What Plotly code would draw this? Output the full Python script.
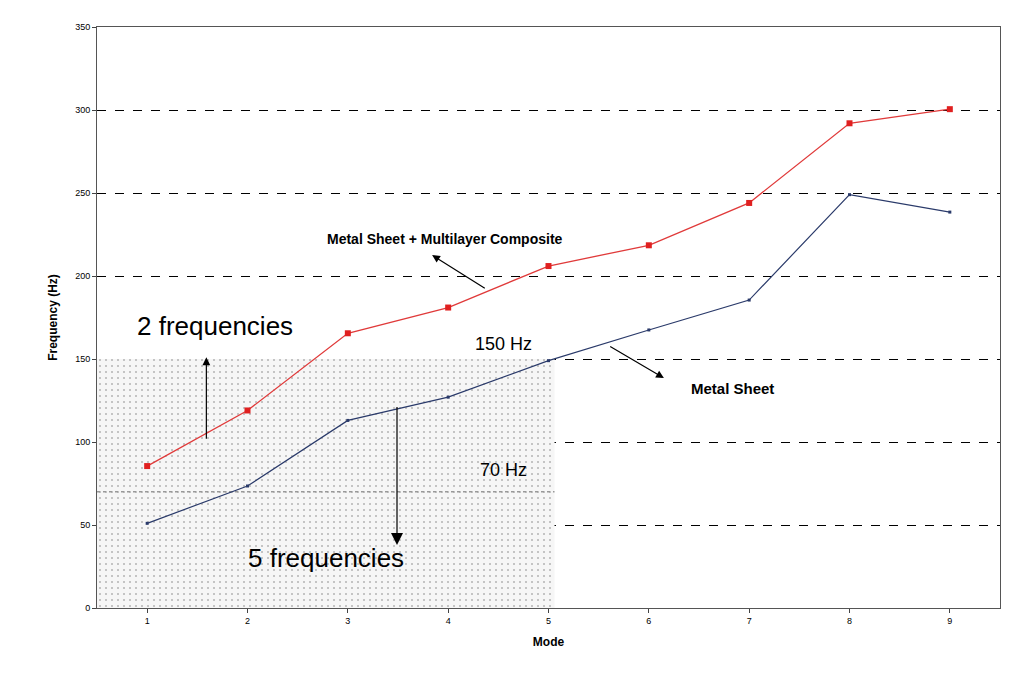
import plotly.graph_objects as go

modes = [1, 2, 3, 4, 5, 6, 7, 8, 9]
composite = [85.5, 119, 165.5, 181, 206, 218.5, 244, 292, 300.5]
metal = [51, 73.5, 113, 127, 149, 167.5, 185.5, 249, 238.5]
yticks = [0, 50, 100, 150, 200, 250, 300, 350]

fig = go.Figure()
fig.add_trace(go.Scatter(x=[0.5, 5.06, 5.06, 0.5, 0.5], y=[0, 0, 150, 150, 0], fill="toself",
                         mode="none", fillcolor="rgba(245,245,245,1)",
                         fillpattern=dict(shape=".", fgcolor="#777", bgcolor="#f6f6f6", size=6, solidity=0.1),
                         hoverinfo="skip", showlegend=False))
fig.add_trace(go.Scatter(x=[0.5, 5.06], y=[70, 70], mode="lines",
                         line=dict(color="#999", width=1.5, dash="dot"), showlegend=False))
fig.add_trace(go.Scatter(x=modes, y=composite, mode="lines+markers", line=dict(color="#e03a3a", width=1.3),
                         marker=dict(symbol="square", size=6, color="#e02020"), showlegend=False))
fig.add_trace(go.Scatter(x=modes, y=metal, mode="lines+markers", line=dict(color="#2a3a6a", width=1.2),
                         marker=dict(symbol="square", size=3, color="#2a3a6a"), showlegend=False))

def arrow(x0, y0, x1, y1, size=1.3):
    fig.add_annotation(x=x1, y=y1, ax=x0, ay=y0, xref="x", yref="y", axref="x", ayref="y",
                       showarrow=True, arrowhead=2, arrowsize=size, arrowwidth=1.2, arrowcolor="black", text="")

arrow(1.59, 101, 1.59, 151)
arrow(3.49, 122, 3.49, 38, 2)
arrow(4.38, 192, 3.84, 212.6)
arrow(5.6, 158, 6.15, 138.5)

def txt(x, y, s, size, bold=False):
    fig.add_annotation(x=x, y=y, xref="x", yref="y", text=("<b>%s</b>" % s) if bold else s,
                       showarrow=False, font=dict(size=size, color="black", family="Liberation Sans"))

txt(1.68, 170, "2 frequencies", 26)
txt(2.78, 30, "5 frequencies", 26)
txt(4.55, 159, "150 Hz", 18)
txt(4.55, 83, "70 Hz", 18)
txt(3.97, 222, "Metal Sheet + Multilayer Composite", 14, True)
txt(6.83, 132, "Metal Sheet", 15, True)

fig.update_layout(width=1024, height=676, margin=dict(l=89, r=32, t=19, b=76),
                  plot_bgcolor="white", paper_bgcolor="white",
                  font=dict(family="Liberation Sans", color="black"))
fig.update_xaxes(range=[0.5, 9.5], tickvals=modes, showgrid=False, showline=True, linecolor="#555",
                 mirror=True, ticks="outside", ticklen=4, tickfont=dict(size=9),
                 title=dict(text="<b>Mode</b>", font=dict(size=12), standoff=12))
fig.update_yaxes(range=[0, 350], tickvals=yticks, showgrid=True, gridcolor="black", griddash="dash",
                 gridwidth=1, showline=True, linecolor="#555", mirror=True, ticks="outside", ticklen=4,
                 zeroline=False, tickfont=dict(size=9),
                 title=dict(text="<b>Frequency (Hz)</b>", font=dict(size=12), standoff=14))
fig.write_html("out.html")
